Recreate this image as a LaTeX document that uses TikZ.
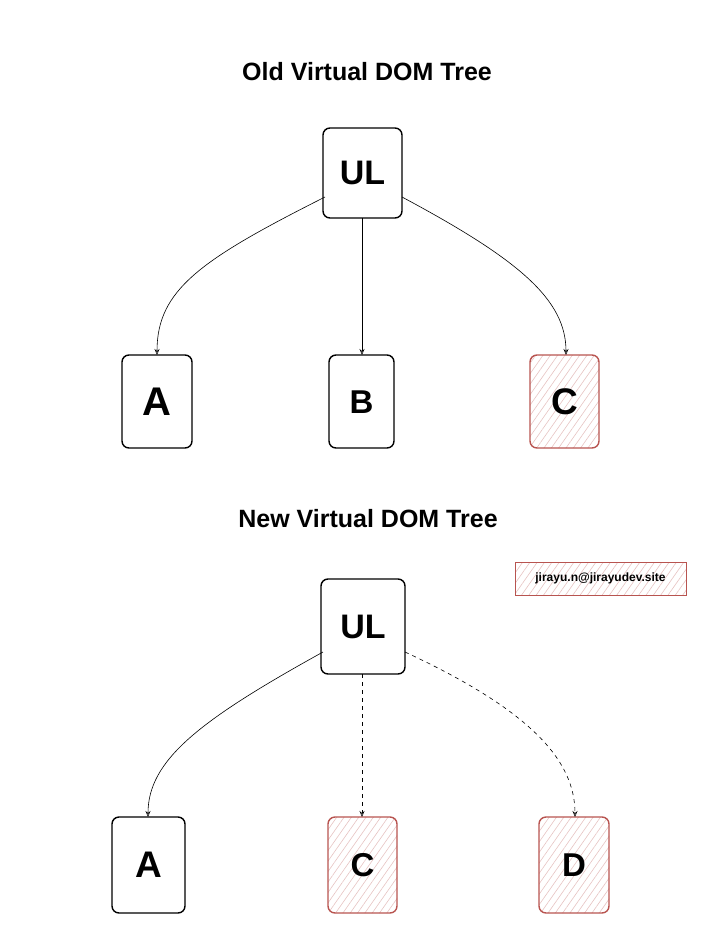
\documentclass[tikz,border=0pt]{standalone}
\usepackage{fontspec}
\setmainfont{Liberation Sans}
\usetikzlibrary{patterns.meta,arrows.meta}
\definecolor{rd}{HTML}{B85450}
\begin{document}
\begin{tikzpicture}[x=1pt,y=-1pt,
 box/.style={draw=black,line width=1.4pt,rounded corners=7pt,font=\bfseries\fontsize{38}{40}\selectfont},
 red/.style={draw=rd,line width=1.4pt,pattern={Lines[angle=55,distance=6pt,line width=0.6pt]},pattern color=rd!35},
 title/.style={font=\bfseries\fontsize{25}{28}\selectfont},
 ar/.style={-{Stealth[open,length=6pt,width=5pt]},line width=0.6pt},
 dar/.style={ar,dash pattern=on 4pt off 4pt}]
\useasboundingbox (0,0) rectangle (722,932);
\node[title] (t1) at (367,72) {Old Virtual DOM Tree};
\node[title] (t2) at (368,519) {New Virtual DOM Tree};
\draw[box] (323,128) rectangle (402,218); \node[font=\bfseries\fontsize{34}{36}\selectfont] (ul1) at (362.5,173) {UL};
\draw[box] (122,355) rectangle (192,448); \node[font=\bfseries\fontsize{40}{42}\selectfont] (a1) at (157,402) {A};
\draw[box] (329,355) rectangle (394,448); \node[font=\bfseries\fontsize{33}{36}\selectfont] (b1) at (361.5,402) {B};
\draw[box,red] (530,355) rectangle (599,448); \node[font=\bfseries\fontsize{37}{40}\selectfont] (c1) at (564.5,402) {C};
\draw[box] (321,579) rectangle (405,674); \node[font=\bfseries\fontsize{34}{36}\selectfont] (ul2) at (363,627) {UL};
\draw[box] (112,817) rectangle (185,913); \node[font=\bfseries\fontsize{37}{40}\selectfont] (a2) at (148.5,865) {A};
\draw[box,red] (328,817) rectangle (397,913); \node[font=\bfseries\fontsize{33}{36}\selectfont] (c2) at (362.5,865) {C};
\draw[box,red] (539,817) rectangle (609,913); \node[font=\bfseries\fontsize{33}{36}\selectfont] (d) at (574,865) {D};
\draw[red,line width=1pt] (515,562) rectangle (686,595);
\node[font=\bfseries\fontsize{12}{14}\selectfont] (lb) at (600.5,578.5) {jirayu.n@jirayudev.site};
\coordinate (p1) at (325,197); \coordinate (q1) at (157,355);
\coordinate (p2) at (362,218); \coordinate (q2) at (362,355);
\coordinate (p3) at (402,197); \coordinate (q3) at (566,355);
\coordinate (p4) at (323,652); \coordinate (q4) at (148,817);
\coordinate (p5) at (362,674); \coordinate (q5) at (362,817);
\coordinate (p6) at (405,652); \coordinate (q6) at (575,817);
\draw[ar] (p1) .. controls (200,260) and (157,290) .. (q1);
\draw[ar] (p2) -- (q2);
\draw[ar] (p3) .. controls (520,260) and (566,300) .. (q3);
\draw[ar] (p4) .. controls (200,720) and (148,760) .. (q4);
\draw[dar] (p5) -- (q5);
\draw[dar] (p6) .. controls (530,710) and (575,760) .. (q6);
\end{tikzpicture}
\end{document}
